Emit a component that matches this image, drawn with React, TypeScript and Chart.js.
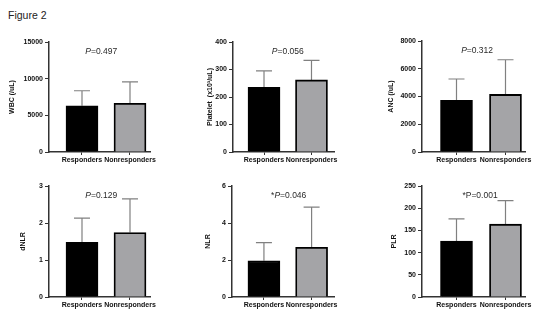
import React, { useEffect, useRef } from 'react';
import { Chart, registerables } from 'chart.js';

Chart.register(...registerables);

const categories = ['Responders', 'Nonresponders'];

const wbcMean = [6300, 6650];
const wbcSD = [2050, 2900];
const plateletMean = [235, 262];
const plateletSD = [60, 71];
const ancMean = [3730, 4150];
const ancSD = [1530, 2500];
const dnlrMean = [1.48, 1.74];
const dnlrSD = [0.65, 0.91];
const nlrMean = [1.96, 2.69];
const nlrSD = [0.98, 2.17];
const plrMean = [126, 164];
const plrSD = [50, 53];

const yTitles = ['WBC (/uL)', 'Platelet  (x10\u00B3/uL)', 'ANC (/uL)', 'dNLR', 'NLR', 'PLR'];
const yMaxes = [15000, 400, 8000, 3, 6, 250];
const ySteps = [5000, 100, 2000, 1, 2, 50];
const pPrefixes = ['', '', '', '', '*', '*'];
const pValues = ['=0.497', '=0.056', '=0.312', '=0.129', '=0.046', '=0.001'];

const FONT = "'Liberation Sans', Arial, sans-serif";
const BAR_COLORS = ['#000000', '#a4a4a7'];

type Layout = {
  axisX: number; right: number; top: number; bottom: number; titleX: number;
  xMin: number; xMax: number; pX: number; italicP: boolean;
};

const layouts: Layout[] = [
  { axisX: 49, right: 150, top: 42, bottom: 152, titleX: 12, xMin: -0.6875, xMax: 1.4167, pX: 0.4, italicP: true },
  { axisX: 233, right: 334, top: 42, bottom: 152, titleX: 210, xMin: -0.653, xMax: 1.474, pX: 0.5, italicP: true },
  { axisX: 422, right: 525, top: 41, bottom: 152, titleX: 391, xMin: -0.704, xMax: 1.398, pX: 0.42, italicP: true },
  { axisX: 49, right: 150, top: 186, bottom: 297, titleX: 23, xMin: -0.6875, xMax: 1.4167, pX: 0.4, italicP: true },
  { axisX: 232, right: 334, top: 186, bottom: 297, titleX: 208, xMin: -0.67, xMax: 1.47, pX: 0.52, italicP: true },
  { axisX: 422, right: 525, top: 186, bottom: 297, titleX: 394, xMin: -0.704, xMax: 1.398, pX: 0.48, italicP: false },
];

const means = [wbcMean, plateletMean, ancMean, dnlrMean, nlrMean, plrMean];
const sds = [wbcSD, plateletSD, ancSD, dnlrSD, nlrSD, plrSD];

const Y_AXIS_W = 45;
const PAD_TOP = 10;
const PAD_RIGHT = 12;
const X_AXIS_H = 18;

function Panel({ idx }: { idx: number }) {
  const ref = useRef<HTMLCanvasElement | null>(null);
  const L = layouts[idx];
  const canvasLeft = L.axisX - Y_AXIS_W;
  const canvasTop = L.top - PAD_TOP;
  const width = Y_AXIS_W + (L.right - L.axisX) + PAD_RIGHT;
  const height = PAD_TOP + (L.bottom - L.top) + X_AXIS_H;

  useEffect(() => {
    if (!ref.current) return;
    const mean = means[idx];
    const sd = sds[idx];
    const titlePad = L.titleX - canvasLeft - 4.2;

    const extras = {
      id: 'extras' + idx,
      beforeDatasetsDraw(chart: any) {
        const ctx = chart.ctx;
        const meta = chart.getDatasetMeta(0);
        const ys = chart.scales.y;
        ctx.save();
        ctx.strokeStyle = '#808080';
        ctx.lineWidth = 1.2;
        meta.data.forEach((el: any, i: number) => {
          const x = el.x;
          const y0 = ys.getPixelForValue(mean[i]);
          const y1 = ys.getPixelForValue(mean[i] + sd[i]);
          const half = el.width / 4;
          ctx.beginPath();
          ctx.moveTo(x, y0);
          ctx.lineTo(x, y1);
          ctx.moveTo(x - half, y1);
          ctx.lineTo(x + half, y1);
          ctx.stroke();
        });
        ctx.restore();
      },
      afterDraw(chart: any) {
        const ctx = chart.ctx;
        const xs = chart.scales.x;
        const cx = xs.getPixelForValue(L.pX);
        const cy = chart.chartArea.top + 10;
        const size = 8.5;
        const normal = `${size}px ${FONT}`;
        const ital = `${L.italicP ? 'italic ' : ''}${size}px ${FONT}`;
        const segs: [string, string][] = [
          [pPrefixes[idx], normal],
          ['P', ital],
          [pValues[idx], normal],
        ];
        ctx.save();
        ctx.fillStyle = '#2a2a2a';
        ctx.textBaseline = 'middle';
        ctx.textAlign = 'left';
        let total = 0;
        segs.forEach(([t, f]) => { ctx.font = f; total += ctx.measureText(t).width; });
        let x = cx - total / 2;
        segs.forEach(([t, f]) => { ctx.font = f; ctx.fillText(t, x, cy); x += ctx.measureText(t).width; });
        ctx.restore();
      },
    };

    const tickFont = { family: FONT, size: 7, weight: 'bold' as const };

    const chart = new Chart(ref.current, {
      type: 'bar',
      data: {
        datasets: [{
          data: categories.map((_, i) => ({ x: i, y: mean[i] })),
          backgroundColor: BAR_COLORS,
          borderColor: '#000000',
          borderWidth: 1.8,
          barThickness: 32,
        }],
      },
      options: {
        responsive: false,
        animation: false,
        devicePixelRatio: 1,
        layout: { padding: { top: PAD_TOP, right: PAD_RIGHT, left: 0, bottom: 0 } },
        plugins: { legend: { display: false }, tooltip: { enabled: false } },
        scales: {
          x: {
            type: 'linear',
            offset: false,
            min: L.xMin,
            max: L.xMax,
            afterBuildTicks: (s: any) => { s.ticks = categories.map((_, i) => ({ value: i })); },
            afterFit: (s: any) => { s.height = X_AXIS_H; },
            ticks: {
              callback: (_v: any, i: number) => categories[i],
              font: tickFont,
              color: '#111',
              padding: 1,
              maxRotation: 0,
              autoSkip: false,
            },
            grid: { display: true, offset: false, drawOnChartArea: false, drawTicks: true, tickLength: 3, color: '#333', lineWidth: 1 },
            border: { display: true, color: '#333', width: 1.5 },
          },
          y: {
            type: 'linear',
            min: 0,
            max: yMaxes[idx],
            afterFit: (s: any) => { s.width = Y_AXIS_W; },
            ticks: {
              stepSize: ySteps[idx],
              callback: (v: any) => String(v),
              font: tickFont,
              color: '#111',
              padding: 2,
            },
            grid: { display: true, drawOnChartArea: false, drawTicks: true, tickLength: 4, color: '#333', lineWidth: 1 },
            border: { display: true, color: '#333', width: 1.5 },
            title: {
              display: true,
              text: yTitles[idx],
              font: { family: FONT, size: 7, weight: 'bold' },
              color: '#111',
              padding: { top: titlePad, bottom: 0 },
            },
          },
        },
      } as any,
      plugins: [extras],
    });
    return () => chart.destroy();
  }, [idx]);

  return (
    <canvas
      ref={ref}
      width={width}
      height={height}
      style={{ position: 'absolute', left: canvasLeft, top: canvasTop, width, height }}
    />
  );
}

export default function App() {
  return (
    <div style={{ position: 'absolute', left: 0, top: 0, width: 554, height: 321, background: '#fff', overflow: 'hidden' }}>
      <div style={{ position: 'absolute', left: 8, top: 9, font: `10.5px ${FONT}`, color: '#222', lineHeight: '13px' }}>
        Figure 2
      </div>
      {layouts.map((_, i) => <Panel key={i} idx={i} />)}
    </div>
  );
}
